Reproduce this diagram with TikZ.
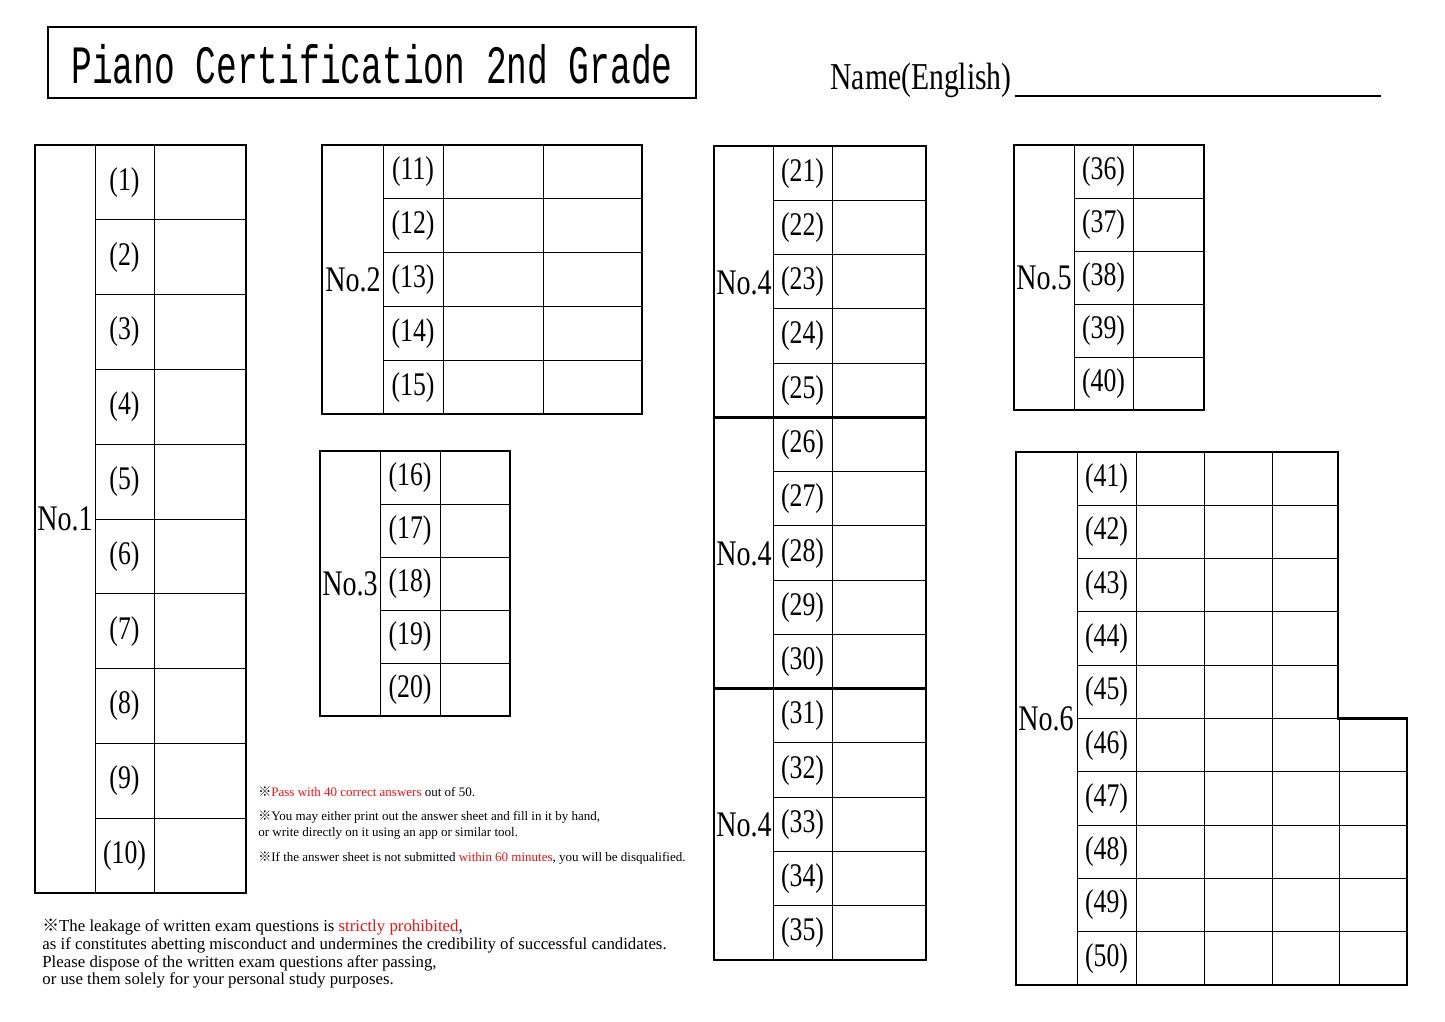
\documentclass[tikz,border=0pt]{standalone}
\usepackage{fontspec}
\setmainfont{Liberation Serif}[FakeStretch=0.78]
\newfontfamily\titlefont{Liberation Mono}[FakeStretch=0.64]
\newfontfamily\notefont{Liberation Serif}
\newfontfamily\cjk{Noto Sans CJK JP}
\definecolor{warn}{RGB}{235,20,20}
\begin{document}
\begin{tikzpicture}[x=0.5pt,y=-0.5pt,
  thin/.style={line width=0.5pt},
  thick2/.style={line width=1.25pt},
  qlab/.style={font=\fontsize{16.5}{16.5}\selectfont,inner sep=0},
  blab/.style={font=\fontsize{18}{18}\selectfont,inner sep=0},
  note/.style={font=\notefont\fontsize{6.5}{8.3}\selectfont,inner sep=0,anchor=west,align=left},
  note2/.style={font=\notefont\fontsize{8.4}{8.8}\selectfont,inner sep=0,anchor=north west,align=left}]
\newcommand{\km}{{\cjk ※}}
\useasboundingbox[fill=white] (0,0) rectangle (1445,1022);
% title
\draw[thick2] (48,27) rectangle (696,98);
\node[font=\titlefont\fontsize{27}{27}\selectfont,inner sep=0] (title) at (372,64) {Piano Certification 2nd Grade};
\node[font=\fontsize{19}{19}\selectfont,inner sep=0,anchor=base east] (name) at (1012,90) {Name(English)};
\coordinate (ul1) at (1015,96); \coordinate (ul2) at (1381,96);
\draw[line width=0.8pt] (ul1) -- (ul2);
% No.1
\foreach \i in {1,...,9}{\draw[thin] (95,145+\i*74.8) -- (246,145+\i*74.8);}
\draw[thin] (95,145) -- (95,893) (154,145) -- (154,893);
\draw[thick2] (35,145) rectangle (246,893);
\foreach \i in {1,...,10}{\node[qlab] (q\i) at (124.5,145+\i*74.8-37.4) {(\i)};}
\node[blab] (b1) at (65,519) {No.1};
% No.2
\foreach \i in {1,...,4}{\draw[thin] (383,145+\i*53.8) -- (642,145+\i*53.8);}
\draw[thin] (383,145) -- (383,414) (443,145) -- (443,414) (543,145) -- (543,414);
\draw[thick2] (322,145) rectangle (642,414);
\foreach \i in {11,...,15}{\node[qlab] (q\i) at (413,145+\i*53.8-10*53.8-26.9) {(\i)};}
\node[blab] (b2) at (353,280) {No.2};
% No.3
\foreach \i in {1,...,4}{\draw[thin] (380,451+\i*53) -- (510,451+\i*53);}
\draw[thin] (380,451) -- (380,716) (440,451) -- (440,716);
\draw[thick2] (320,451) rectangle (510,716);
\foreach \i in {16,...,20}{\node[qlab] (q\i) at (410,451+\i*53-15*53-26.5) {(\i)};}
\node[blab] (b3) at (350,584) {No.3};
% No.4
\foreach \i in {1,...,14}{\draw[thin] (773,146+\i*54.27) -- (926,146+\i*54.27);}
\draw[thin] (773,146) -- (773,960) (832,146) -- (832,960);
\draw[thick2] (714,146) rectangle (926,960);
\draw[thick2] (714,417.3) -- (926,417.3) (714,688.7) -- (926,688.7);
\foreach \i in {21,...,35}{\node[qlab] (q\i) at (802.5,146+\i*54.27-20*54.27-27.1) {(\i)};}
\node[blab] (b4a) at (744,283) {No.4};
\node[blab] (b4b) at (744,554) {No.4};
\node[blab] (b4c) at (744,825) {No.4};
% No.5
\foreach \i in {1,...,4}{\draw[thin] (1074,145+\i*53) -- (1204,145+\i*53);}
\draw[thin] (1074,145) -- (1074,410) (1133,145) -- (1133,410);
\draw[thick2] (1014,145) rectangle (1204,410);
\foreach \i in {36,...,40}{\node[qlab] (q\i) at (1103.5,145+\i*53-35*53-26.5) {(\i)};}
\node[blab] (b5) at (1044,278) {No.5};
% No.6
\foreach \i in {1,...,4}{\draw[thin] (1077,452+\i*53.3) -- (1338,452+\i*53.3);}
\foreach \i in {6,...,9}{\draw[thin] (1077,452+\i*53.3) -- (1407,452+\i*53.3);}
\draw[thin] (1077,718.5) -- (1338,718.5);
\draw[thin] (1077,452) -- (1077,985) (1136,452) -- (1136,985) (1204,452) -- (1204,985) (1272,452) -- (1272,985) (1339,718.5) -- (1339,985);
\draw[thick2] (1016,452) -- (1338,452) -- (1338,718.5) -- (1407,718.5) -- (1407,985) -- (1016,985) -- cycle;
\foreach \i in {41,...,50}{\node[qlab] (q\i) at (1106.5,452+\i*53.3-40*53.3-26.65) {(\i)};}
\node[blab] (b6) at (1046,719) {No.6};
% notes
\node[note] (n1) at (258,792) {\km\textcolor{warn}{Pass with 40 correct answers} out of 50.};
\node[note] (n2) at (258,825) {\km You may either print out the answer sheet and fill in it by hand,\\or write directly on it using an app or similar tool.};
\node[note] (n3) at (258,858) {\km If the answer sheet is not submitted \textcolor{warn}{within 60 minutes}, you will be disqualified.};
\node[note2] (n4) at (42,919) {\km The leakage of written exam questions is \textcolor{warn}{strictly prohibited},\\as if constitutes abetting misconduct and undermines the credibility of successful candidates.\\Please dispose of the written exam questions after passing,\\or use them solely for your personal study purposes.};
\end{tikzpicture}
\end{document}
